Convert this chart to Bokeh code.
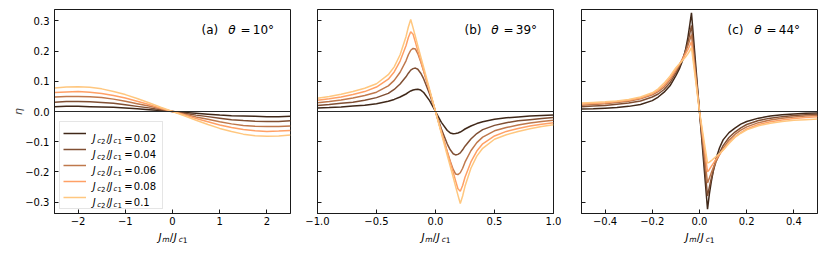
import math
from bokeh.plotting import figure
from bokeh.models import Label, Legend, LegendItem, Span, FixedTicker, CustomJSTickFormatter
from bokeh.layouts import row, column
from bokeh.core.properties import value
from bokeh.embed import file_html
from bokeh.resources import INLINE

# ---------------- data ----------------
jc2_labels = ["0.02", "0.04", "0.06", "0.08", "0.1"]
colors = ["#402819", "#804f33", "#bf784c", "#ffa066", "#ffc77f"]

y_ticks = [-0.3, -0.2, -0.1, 0.0, 0.1, 0.2, 0.3]
y_tick_labels = ["\u22120.3", "\u22120.2", "\u22120.1", "0.0", "0.1", "0.2", "0.3"]

# panel (a) theta = 10 deg
xa = [-2.5, -2.25, -2.0, -1.75, -1.5, -1.25, -1.0, -0.75, -0.5, -0.25, 0.0,
      0.25, 0.5, 0.75, 1.0, 1.25, 1.5, 1.75, 2.0, 2.25, 2.5]
a_002 = [0.016, 0.017, 0.017, 0.016, 0.015, 0.014, 0.012, 0.009, 0.006, 0.003, 0.0,
         -0.003, -0.006, -0.009, -0.012, -0.014, -0.015, -0.016, -0.017, -0.017, -0.016]
a_004 = [0.031, 0.033, 0.033, 0.032, 0.030, 0.027, 0.022, 0.017, 0.012, 0.006, 0.0,
         -0.006, -0.012, -0.017, -0.022, -0.027, -0.030, -0.032, -0.033, -0.033, -0.031]
a_006 = [0.048, 0.050, 0.050, 0.049, 0.046, 0.041, 0.034, 0.026, 0.018, 0.009, 0.0,
         -0.009, -0.018, -0.026, -0.034, -0.041, -0.046, -0.049, -0.050, -0.050, -0.048]
a_008 = [0.063, 0.065, 0.066, 0.064, 0.060, 0.053, 0.045, 0.034, 0.023, 0.011, 0.0,
         -0.011, -0.023, -0.034, -0.045, -0.053, -0.060, -0.064, -0.066, -0.065, -0.063]
a_010 = [0.078, 0.081, 0.082, 0.080, 0.075, 0.066, 0.056, 0.043, 0.029, 0.014, 0.0,
         -0.014, -0.029, -0.043, -0.056, -0.066, -0.075, -0.080, -0.082, -0.081, -0.078]
xa_ticks = [-2, -1, 0, 1, 2]
xa_tick_labels = ["\u22122", "\u22121", "0", "1", "2"]

# panel (b) theta = 39 deg
xb = [-1.0, -0.9, -0.8, -0.7, -0.6, -0.5, -0.4, -0.35, -0.3, -0.25, -0.23, -0.21, -0.19,
      -0.17, -0.15, -0.125, -0.1, -0.05, 0.0,
      0.05, 0.1, 0.125, 0.15, 0.17, 0.19, 0.21, 0.23, 0.25, 0.3, 0.35, 0.4, 0.5, 0.6,
      0.7, 0.8, 0.9, 1.0]
b_002 = [0.012, 0.013, 0.015, 0.018, 0.021, 0.026, 0.034, 0.040, 0.048, 0.058, 0.063, 0.068,
         0.071, 0.073, 0.074, 0.071, 0.063, 0.036, 0.0,
         -0.036, -0.063, -0.071, -0.074, -0.073, -0.071, -0.068, -0.063, -0.058, -0.048,
         -0.040, -0.034, -0.026, -0.021, -0.018, -0.015, -0.013, -0.012]
b_004 = [0.020, 0.023, 0.027, 0.031, 0.037, 0.046, 0.060, 0.073, 0.091, 0.115, 0.127, 0.137,
         0.142, 0.144, 0.140, 0.127, 0.108, 0.058, 0.0,
         -0.058, -0.108, -0.127, -0.140, -0.144, -0.142, -0.137, -0.127, -0.115, -0.091,
         -0.073, -0.060, -0.046, -0.037, -0.031, -0.027, -0.023, -0.020]
b_006 = [0.029, 0.033, 0.038, 0.045, 0.053, 0.064, 0.085, 0.103, 0.130, 0.168, 0.188, 0.203,
         0.209, 0.207, 0.192, 0.165, 0.134, 0.068, 0.0,
         -0.068, -0.134, -0.165, -0.192, -0.207, -0.209, -0.203, -0.188, -0.168, -0.130,
         -0.103, -0.085, -0.064, -0.053, -0.045, -0.038, -0.033, -0.029]
b_008 = [0.037, 0.042, 0.048, 0.056, 0.066, 0.081, 0.107, 0.131, 0.167, 0.218, 0.245, 0.264,
         0.256, 0.229, 0.201, 0.168, 0.134, 0.067, 0.0,
         -0.067, -0.134, -0.168, -0.201, -0.229, -0.256, -0.264, -0.245, -0.218, -0.167,
         -0.131, -0.107, -0.081, -0.066, -0.056, -0.048, -0.042, -0.037]
b_010 = [0.044, 0.050, 0.057, 0.066, 0.077, 0.092, 0.122, 0.148, 0.188, 0.248, 0.280, 0.305,
         0.277, 0.248, 0.218, 0.182, 0.146, 0.073, 0.0,
         -0.073, -0.146, -0.182, -0.218, -0.248, -0.277, -0.305, -0.280, -0.248, -0.188,
         -0.148, -0.122, -0.092, -0.077, -0.066, -0.057, -0.050, -0.044]
xb_ticks = [-1.0, -0.5, 0.0, 0.5, 1.0]
xb_tick_labels = ["\u22121.0", "\u22120.5", "0.0", "0.5", "1.0"]

# panel (c) theta = 44 deg
xc = [-0.5, -0.45, -0.4, -0.35, -0.3, -0.25, -0.2, -0.175, -0.15, -0.125, -0.1, -0.085,
      -0.07, -0.06, -0.05, -0.042, -0.034, 0.0,
      0.034, 0.042, 0.05, 0.06, 0.07, 0.085, 0.1, 0.125, 0.15, 0.175, 0.2, 0.25, 0.3,
      0.35, 0.4, 0.45, 0.5]
c_002 = [0.008, 0.009, 0.011, 0.013, 0.017, 0.023, 0.036, 0.048, 0.064, 0.085, 0.119, 0.142,
         0.172, 0.202, 0.241, 0.283, 0.327, 0.0,
         -0.324, -0.272, -0.232, -0.190, -0.156, -0.120, -0.094, -0.070, -0.055, -0.042,
         -0.033, -0.022, -0.015, -0.011, -0.008, -0.006, -0.005]
c_004 = [0.016, 0.018, 0.020, 0.024, 0.028, 0.035, 0.048, 0.058, 0.073, 0.095, 0.128, 0.150,
         0.177, 0.199, 0.226, 0.255, 0.285, 0.0,
         -0.280, -0.250, -0.222, -0.192, -0.166, -0.137, -0.113, -0.086, -0.068, -0.054,
         -0.043, -0.030, -0.022, -0.017, -0.013, -0.011, -0.009]
c_006 = [0.021, 0.023, 0.026, 0.030, 0.034, 0.042, 0.055, 0.066, 0.081, 0.104, 0.135, 0.155,
         0.178, 0.196, 0.216, 0.235, 0.255, 0.0,
         -0.237, -0.220, -0.203, -0.183, -0.165, -0.143, -0.122, -0.095, -0.076, -0.062,
         -0.051, -0.037, -0.028, -0.022, -0.018, -0.015, -0.013]
c_008 = [0.025, 0.027, 0.029, 0.033, 0.037, 0.045, 0.059, 0.070, 0.087, 0.110, 0.140, 0.157,
         0.175, 0.189, 0.203, 0.217, 0.232, 0.0,
         -0.200, -0.192, -0.182, -0.170, -0.158, -0.142, -0.127, -0.103, -0.084, -0.070,
         -0.058, -0.043, -0.034, -0.028, -0.023, -0.020, -0.017]
c_010 = [0.028, 0.030, 0.032, 0.035, 0.040, 0.048, 0.062, 0.075, 0.094, 0.117, 0.145, 0.158,
         0.171, 0.180, 0.190, 0.200, 0.212, 0.0,
         -0.171, -0.168, -0.163, -0.156, -0.149, -0.139, -0.128, -0.106, -0.086, -0.072,
         -0.061, -0.047, -0.039, -0.033, -0.029, -0.027, -0.025]
xc_ticks = [-0.4, -0.2, 0.0, 0.2, 0.4]
xc_tick_labels = ["\u22120.4", "\u22120.2", "0.0", "0.2", "0.4"]

zero_level = 0.0
titles = [("(a)", "10"), ("(b)", "39"), ("(c)", "44")]
y_label = "\u03b7"

# ---------------- layout ----------------
FW, FH = 236, 204
TOP = 9
FIG_H = 230
STRIP_H = 24
Y_RANGE = (-0.338, 0.338)
FONT = "DejaVu Sans"


def tick_formatter(tv, tl):
    return CustomJSTickFormatter(
        args=dict(tv=tv, tl=tl),
        code="for (let i = 0; i < tv.length; i++) { if (Math.abs(tv[i] - tick) < 1e-9) return tl[i]; } return '';")


def make_fig(width, bl, br, xr, xticks, xlabels, show_y):
    p = figure(width=width, height=FIG_H, x_range=xr, y_range=Y_RANGE,
               output_backend="svg", toolbar_location=None,
               min_border_left=bl, min_border_right=br, min_border_top=TOP,
               min_border_bottom=FIG_H - TOP - FH)
    p.xgrid.visible = False
    p.ygrid.visible = False
    p.background_fill_color = "white"
    p.border_fill_color = "white"
    p.outline_line_color = "#1a1a1a"
    p.outline_line_width = 1
    for ax in (p.xaxis[0], p.yaxis[0]):
        ax.major_tick_in = 4
        ax.major_tick_out = 0
        ax.minor_tick_line_color = None
        ax.axis_line_color = "#1a1a1a"
        ax.major_tick_line_color = "#1a1a1a"
        ax.major_label_text_font = FONT
        ax.major_label_text_font_size = "10px"
        ax.major_label_text_color = "black"
    p.xaxis.ticker = FixedTicker(ticks=xticks)
    p.xaxis.formatter = tick_formatter(xticks, xlabels)
    p.xaxis.major_label_standoff = 3
    p.yaxis.ticker = FixedTicker(ticks=y_ticks)
    if show_y:
        p.yaxis.formatter = tick_formatter(y_ticks, y_tick_labels)
        p.yaxis.major_label_standoff = 5
        p.yaxis.axis_label = y_label
        p.yaxis.axis_label_text_font = FONT
        p.yaxis.axis_label_text_font_style = "italic"
        p.yaxis.axis_label_text_font_size = "11px"
        p.yaxis.axis_label_standoff = -3
    else:
        p.yaxis.formatter = tick_formatter(y_ticks, ["" for _ in y_ticks])
        p.yaxis.major_label_text_font_size = "0px"
        p.yaxis.major_label_standoff = 0
    p.add_layout(Span(location=zero_level, dimension="width", line_color="#2a2a2a", line_width=1.2))
    return p


def put(p, xr, px, py, text, size, style="normal"):
    x = xr[0] + px * (xr[1] - xr[0]) / FW
    y = Y_RANGE[1] - py * (Y_RANGE[1] - Y_RANGE[0]) / FH
    p.add_layout(Label(x=x, y=y, text=text, text_font=FONT, text_font_size=f"{size}px",
                       text_font_style=style, text_align="left", text_baseline="alphabetic",
                       text_color="black"))


def title(p, xr, px, tag, ang):
    b = 20.0
    put(p, xr, px, b, tag, 12)
    put(p, xr, px + 26.7, b, "\u03b8", 12, "italic")
    put(p, xr, px + 39.0, b, "=", 12)
    put(p, xr, px + 51.3, b, ang, 12)
    put(p, xr, px + 66.5, b, "\u00b0", 12)


xra, xrb, xrc = (-2.5, 2.5), (-1.0, 1.0), (-0.5, 0.5)
WA, WB, WC = 303, 264, 258
fa = make_fig(WA, 54, 13, xra, xa_ticks, xa_tick_labels, True)
fb = make_fig(WB, 14, 14, xrb, xb_ticks, xb_tick_labels, False)
fc = make_fig(WC, 14, 8, xrc, xc_ticks, xc_tick_labels, False)

renderers_a = []
for ys, col in zip([a_002, a_004, a_006, a_008, a_010], colors):
    renderers_a.append(fa.line(xa, ys, line_color=col, line_width=1.5))
for ys, col in zip([b_002, b_004, b_006, b_008, b_010], colors):
    fb.line(xb, ys, line_color=col, line_width=1.5)
for ys, col in zip([c_002, c_004, c_006, c_008, c_010], colors):
    fc.line(xc, ys, line_color=col, line_width=1.5)

legend = Legend(items=[LegendItem(label=value(" "), renderers=[r]) for r in renderers_a],
                location=(5, 4), glyph_width=23, glyph_height=16, label_height=16,
                label_width=68, spacing=0, padding=3, margin=0, label_standoff=5,
                border_line_color="#cccccc", border_line_width=1,
                background_fill_alpha=0.0,
                label_text_font_size="10px")
fa.add_layout(legend)

# legend rich labels  J_c2/J_c1 = value
for k, lab in enumerate(jc2_labels):
    b = 128.6 + 16 * k
    x0 = 38.3
    put(fa, xra, x0, b, "J", 10, "italic")
    put(fa, xra, x0 + 4.4, b + 2.5, "c", 7, "italic")
    put(fa, xra, x0 + 8.3, b + 2.5, "2", 7)
    put(fa, xra, x0 + 13.7, b, "/", 10)
    put(fa, xra, x0 + 16.7, b, "J", 10, "italic")
    put(fa, xra, x0 + 20.7, b + 2.5, "c", 7, "italic")
    put(fa, xra, x0 + 24.6, b + 2.5, "1", 7)
    put(fa, xra, x0 + 31.5, b, "=", 10)
    put(fa, xra, x0 + 41.0, b, lab, 10)

for p, xr, px, (tag, ang) in zip([fa, fb, fc], [xra, xrb, xrc], [147, 147, 146], titles):
    title(p, xr, px, tag, ang)

# strip below the panels carrying the x-axis labels  J_m/J_c1
TOTAL_W = WA + WB + WC
strip = figure(width=TOTAL_W, height=STRIP_H, x_range=(0, TOTAL_W), y_range=(0, STRIP_H),
               output_backend="svg", toolbar_location=None, min_border=0,
               x_axis_location=None, y_axis_location=None)
strip.xgrid.visible = False
strip.ygrid.visible = False
strip.outline_line_color = None
strip.background_fill_color = "white"
strip.border_fill_color = "white"


def sput(x, ytop, text, size, style="normal"):
    strip.add_layout(Label(x=x, y=STRIP_H - ytop, text=text, text_font=FONT,
                           text_font_size=f"{size}px", text_font_style=style,
                           text_align="left", text_baseline="alphabetic", text_color="black"))


centers = [54 + FW / 2, WA + 14 + FW / 2, WA + WB + 14 + FW / 2]
base = 236.3 - FIG_H
for c in centers:
    sput(c - 14.0, base, "J", 10.5, "italic")
    sput(c - 10.3, base + 3, "m", 7.5, "italic")
    sput(c - 2.7, base, "/", 10.5)
    sput(c + 1.3, base, "J", 10.5, "italic")
    sput(c + 6.3, base + 3, "c", 7.5, "italic")
    sput(c + 10.2, base + 3, "1", 7.5)

layout = column(row(fa, fb, fc), strip)
open("out.html", "w").write(file_html(layout, INLINE))
